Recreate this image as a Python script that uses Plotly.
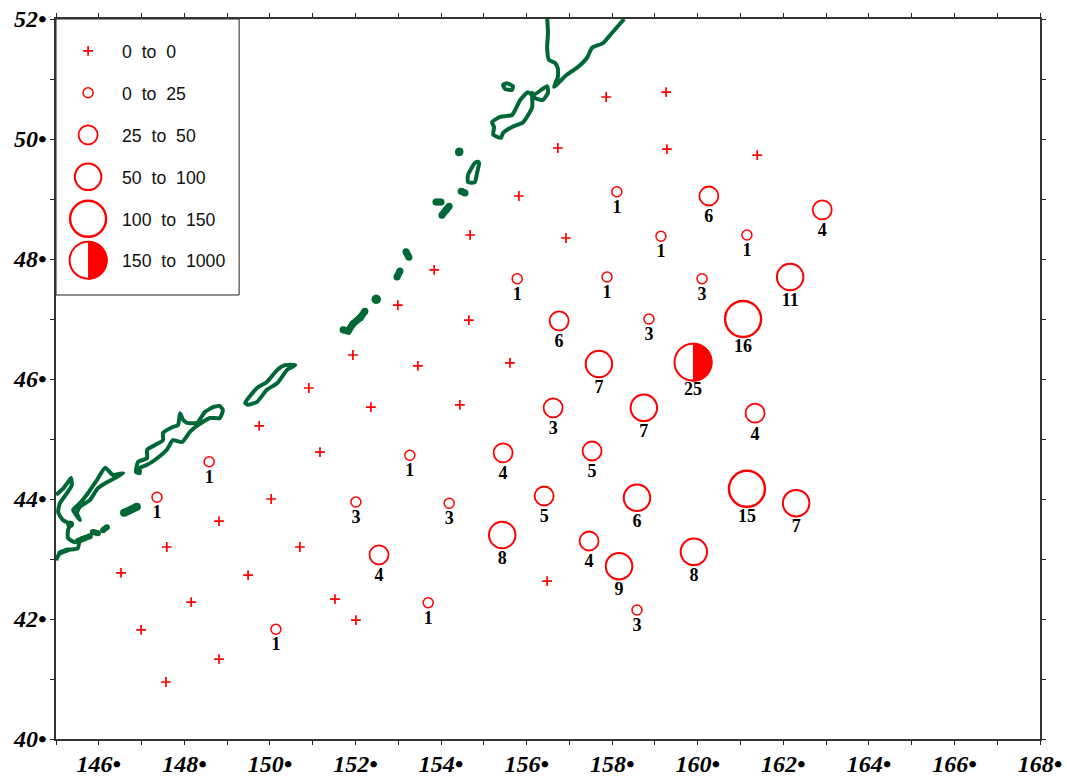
import plotly.graph_objects as go

# ---- stations with no catch (lon, lat)
zero_lon = [157.86,159.26,156.73,159.28,161.39,155.82,154.68,156.92,153.84,152.99,154.65,151.94,153.46,155.61,150.91,152.36,154.44,149.75,151.17,150.03,148.81,147.59,150.70,146.52,149.49,148.16,151.52,152.01,156.48,146.99,148.81,147.57]
zero_lat = [50.70,50.78,49.85,49.83,49.73,49.05,48.40,48.35,47.82,47.23,46.98,46.40,46.22,46.27,45.85,45.53,45.57,45.22,44.78,44.00,43.63,43.20,43.20,42.77,42.73,42.28,42.33,41.98,42.63,41.82,41.33,40.95]

# ---- stations with catch: lon, lat, size class (1..5), label
st_lon = [158.11,160.26,162.91,159.14,161.15,162.16,155.78,157.88,160.10,158.86,156.76,161.06,157.69,159.89,156.62,158.74,161.34,153.27,155.45,157.53,148.58,147.36,156.41,158.58,161.15,162.30,152.01,154.19,155.43,157.46,159.91,158.16,152.55,153.70,150.14,158.58]
st_lat = [49.12,49.05,48.82,48.38,48.40,47.70,47.67,47.70,47.67,47.00,46.97,47.00,46.25,46.28,45.52,45.52,45.43,44.73,44.77,44.80,44.62,44.03,44.05,44.02,44.17,43.93,43.95,43.93,43.40,43.30,43.12,42.88,43.07,42.27,41.83,42.15]
st_cls = [1,2,2,1,1,3,1,1,1,1,2,4,3,5,2,3,2,1,2,2,1,1,2,3,4,3,1,1,3,2,3,3,2,1,1,1]
st_lab = [1,6,4,1,1,11,1,1,3,3,6,16,7,25,3,7,4,1,4,5,1,1,5,6,15,7,3,3,8,4,8,9,4,1,1,3]

# ---- legend
leg_labels = ["0  to  0","0  to  25","25  to  50","50  to  100","100  to  150","150  to  1000"]
leg_lat = [51.47,50.77,50.07,49.37,48.67,47.98]
leg_lon = 145.75
leg_text_lon = 146.54

# ---- coast outlines
coast_lon = [
 [145.00,145.16,145.28,145.35,145.37,145.26,145.09,145.05,145.16,145.33,145.28,145.28,145.44,145.61,145.79,145.56,145.51,145.26,145.09,145.00],
 [145.56,145.40,145.56,145.75,145.96,146.15,146.33,146.57,146.38,146.19,145.98,145.79,145.56,145.49,145.56],
 [146.87,146.92,147.13,147.13,147.50,147.50,147.73,147.85,147.90,147.97,148.06,148.30,148.48,148.67,148.83,148.90,148.83,148.60,148.32,148.13,147.95,147.73,147.59,147.31,147.13,146.96,146.96,146.87],
 [149.42,149.70,149.93,150.17,150.35,150.59,150.40,150.17,149.93,149.70,149.49,149.42],
 [154.86,154.79,154.63,154.63,154.79,154.84,154.89,154.86],
 [156.48,156.50,156.48,156.52,156.66,156.73,156.73,156.64,156.94,157.20,157.41,157.53,157.79,158.00,158.28],
 [155.45,155.54,155.68,155.66,155.50,155.45],
 [155.19,155.38,155.66,155.85,156.03,156.15,156.48,156.50,156.38,156.20,156.13,156.13,155.92,155.66,155.45,155.40,155.22,155.24,155.19],
]
coast_lat = [
 [44.07,44.17,44.28,44.35,44.23,44.10,43.93,43.78,43.65,43.58,43.48,43.35,43.28,43.35,43.38,43.32,43.18,43.15,43.10,42.98],
 [43.65,43.82,43.93,44.10,44.32,44.52,44.40,44.43,44.35,44.28,44.18,43.98,43.87,43.77,43.65],
 [44.45,44.62,44.68,44.82,44.98,45.10,45.20,45.23,45.43,45.32,45.27,45.27,45.45,45.53,45.55,45.48,45.35,45.35,45.23,45.12,44.95,44.98,44.82,44.65,44.57,44.52,44.43,44.45],
 [45.60,45.85,45.95,46.15,46.23,46.23,46.15,45.93,45.82,45.62,45.57,45.60],
 [49.62,49.60,49.40,49.28,49.28,49.43,49.60,49.62],
 [52.02,51.77,51.53,51.32,51.27,51.18,51.03,50.87,51.07,51.20,51.35,51.52,51.60,51.77,52.00],
 [50.90,50.93,50.88,50.82,50.83,50.90],
 [50.28,50.37,50.40,50.65,50.78,50.73,50.88,50.77,50.65,50.68,50.77,50.53,50.28,50.20,50.10,50.02,50.07,50.20,50.28],
]
# small islets drawn as thick strokes
islet_lon = [[145.86,145.98],[146.10,146.19],[146.59,146.89],[151.71,151.83,151.94,152.11,152.22],[152.97,153.04],[153.18,153.25],[154.02,154.12,154.19],[153.88,154.00],[154.47,154.56],[152.48,152.49],[154.42,154.43],[145.51,145.79],[145.32,145.34],[145.09,145.26]]
islet_lat = [[43.45,43.43],[43.48,43.53],[43.77,43.87],[46.82,46.80,46.92,47.02,47.13],[47.70,47.80],[48.12,48.03],[48.73,48.82,48.88],[48.95,48.95],[49.13,49.10],[47.33,47.33],[49.78,49.79],[43.30,43.38],[43.58,43.58],[43.10,43.15]]
islet_w = [6,6,8,7,7,7,7,7,7,9,8,6,7,5]

# ---- axes
x_ticks = list(range(145,169))
y_ticks = list(range(40,53))
x_text = [f"{v}\u2022" if v%2==0 and v>145 else "" for v in x_ticks]
y_text = [f"{v}\u2022" if v%2==0 else "" for v in y_ticks]

RED = "#ff0000"
GREEN = "#006837"
sizes = {1:10, 2:19, 3:26.5, 4:36, 5:37}
label_gap = {1:10, 2:19, 3:23, 4:30, 5:30}
widths = {1:1.5, 2:1.8, 3:2, 4:2.4, 5:2}
R = 19.5
K = 0.5523*R

fig = go.Figure()
for lo,la in zip(coast_lon,coast_lat):
    fig.add_trace(go.Scatter(x=lo,y=la,mode="lines",line=dict(color=GREEN,width=4,shape="spline",smoothing=0.5),hoverinfo="skip"))
for lo,la,w in zip(islet_lon,islet_lat,islet_w):
    fig.add_trace(go.Scatter(x=lo,y=la,mode="lines+markers",line=dict(color=GREEN,width=w),marker=dict(color=GREEN,size=w,opacity=1),hoverinfo="skip"))

fig.add_trace(go.Scatter(x=zero_lon,y=zero_lat,mode="markers",
    marker=dict(symbol="cross-thin",size=7,opacity=1,line=dict(color=RED,width=1.7))))
fig.add_trace(go.Scatter(x=st_lon,y=st_lat,mode="markers",
    marker=dict(symbol="circle",size=[sizes[c] for c in st_cls],color="white",opacity=1,
                line=dict(color=RED,width=[widths[c] for c in st_cls]))))
fig.add_trace(go.Scatter(x=st_lon,y=st_lat,mode="markers+text",text=[str(v) for v in st_lab],
    textposition="bottom center",
    textfont=dict(family="Liberation Serif",size=18,color="black",weight="bold"),
    marker=dict(symbol="circle",size=[label_gap[c] for c in st_cls],opacity=0)))

# legend symbols
fig.add_trace(go.Scatter(x=[leg_lon],y=[leg_lat[0]],mode="markers",
    marker=dict(symbol="cross-thin",size=7,opacity=1,line=dict(color=RED,width=1.7))))
fig.add_trace(go.Scatter(x=[leg_lon]*5,y=leg_lat[1:],mode="markers",
    marker=dict(symbol="circle",size=[sizes[c] for c in (1,2,3,4,5)],color="white",opacity=1,
                line=dict(color=RED,width=[widths[c] for c in (1,2,3,4,5)]))))

shapes = [dict(type="rect",xref="x",yref="y",x0=145,x1=149.28,y0=47.40,y1=52,
               line=dict(color="#222222",width=1),fillcolor="white",layer="below")]
half_path = f"M0,{R} C{K},{R} {R},{K} {R},0 C{R},{-K} {K},{-R} 0,{-R} Z"
half_points = [(leg_lon,leg_lat[5])]+[(a,b) for a,b,c in zip(st_lon,st_lat,st_cls) if c==5]
for a,b in half_points:
    shapes.append(dict(type="path",xref="x",yref="y",xsizemode="pixel",ysizemode="pixel",
                       xanchor=a,yanchor=b,path=half_path,fillcolor=RED,line=dict(width=0),layer="above"))

annotations = [dict(x=leg_text_lon,y=la,xref="x",yref="y",text=t.replace(" ","\u00a0"),showarrow=False,
                    xanchor="left",yanchor="middle",xshift=-2,yshift=-1,
                    font=dict(family="Liberation Sans",size=17.7,color="#111111"))
               for t,la in zip(leg_labels,leg_lat)]

tickfont = dict(family="Liberation Serif",size=24,color="black",weight="bold",style="italic")
axis_common = dict(showgrid=False,zeroline=False,showline=True,linecolor="#333333",linewidth=1.5,
                   mirror="ticks",ticks="outside",ticklen=4,tickwidth=1,tickcolor="#222222",
                   tickmode="array",tickfont=tickfont,automargin=False)
fig.update_layout(
    width=1067,height=776,autosize=False,showlegend=False,plot_bgcolor="white",paper_bgcolor="white",
    margin=dict(l=56,r=27,t=19,b=37,pad=0),
    xaxis=dict(range=[145,168],tickvals=x_ticks,ticktext=x_text,ticklabelstandoff=-2,**axis_common),
    yaxis=dict(range=[40,52],tickvals=y_ticks,ticktext=y_text,ticklabelstandoff=-1,**axis_common),
    shapes=shapes,annotations=annotations)

fig.write_html("out.html",config=dict(displayModeBar=False),
               post_script="document.body.style.margin='0';document.body.style.overflow='hidden';")
